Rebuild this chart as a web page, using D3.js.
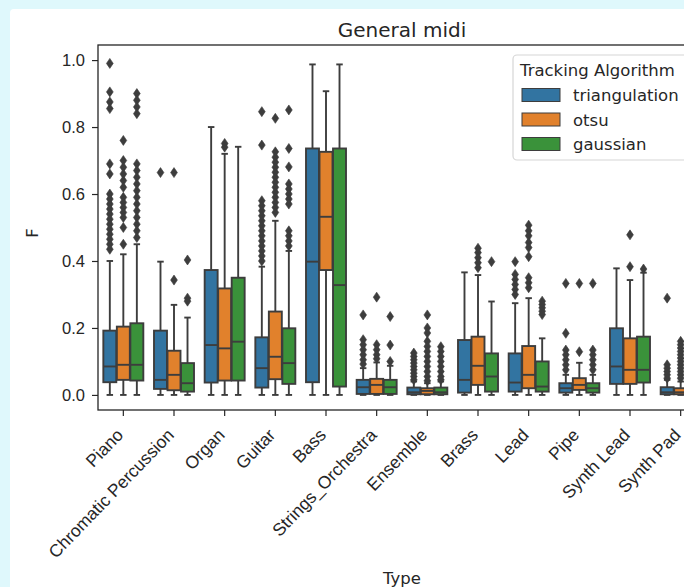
<!DOCTYPE html>
<html>
<head>
<meta charset="utf-8">
<script src="https://cdn.jsdelivr.net/npm/d3@7/dist/d3.min.js"></script>
<style>
  html, body { margin: 0; padding: 0; background: #ffffff; overflow: hidden; }
  svg { display: block; font-family: "DejaVu Sans", sans-serif; }
</style>
</head>
<body>
<div id="container"></div>
<script>
const width = 684, height = 587;

// Categories and hue groups
const types = ["Piano", "Chromatic Percussion", "Organ", "Guitar", "Bass", "Strings_Orchestra",
  "Ensemble", "Brass", "Lead", "Pipe", "Synth Lead", "Synth Pad"];
const algorithms = ["triangulation", "otsu", "gaussian"];
const colors = ["#3274a1", "#e1812c", "#3a923a"];
const yTicks = [0, 0.2, 0.4, 0.6, 0.8, 1.0];

// Box statistics per algorithm, one value per type
const triLo  = [0, 0, 0, 0, 0, 0, 0, 0, 0, 0, 0, 0];
const triQ1  = [0.038, 0.018, 0.037, 0.022, 0.038, 0.003, 0.002, 0.007, 0.010, 0.007, 0.033, 0.002];
const triMed = [0.085, 0.045, 0.149, 0.080, 0.398, 0.023, 0.008, 0.045, 0.037, 0.020, 0.085, 0.008];
const triQ3  = [0.192, 0.192, 0.373, 0.172, 0.736, 0.045, 0.022, 0.164, 0.124, 0.035, 0.199, 0.023];
const triHi  = [0.400, 0.398, 0.800, 0.383, 0.987, 0.080, 0.040, 0.366, 0.274, 0.060, 0.378, 0.045];

const otsuLo  = [0, 0, 0, 0, 0, 0, 0, 0, 0, 0, 0, 0];
const otsuQ1  = [0.045, 0.014, 0.043, 0.047, 0.373, 0.003, 0.002, 0.030, 0.020, 0.015, 0.033, 0.002];
const otsuMed = [0.090, 0.060, 0.139, 0.114, 0.532, 0.030, 0.012, 0.087, 0.060, 0.030, 0.075, 0.008];
const otsuQ3  = [0.204, 0.132, 0.318, 0.249, 0.726, 0.048, 0.020, 0.174, 0.146, 0.050, 0.169, 0.020];
const otsuHi  = [0.420, 0.269, 0.720, 0.520, 0.907, 0.097, 0.035, 0.358, 0.289, 0.096, 0.343, 0.040];

const gaussLo  = [0, 0, 0, 0, 0, 0, 0, 0, 0, 0, 0, 0];
const gaussQ1  = [0.043, 0.010, 0.043, 0.033, 0.025, 0.003, 0.002, 0.010, 0.010, 0.007, 0.037, 0.002];
const gaussMed = [0.090, 0.035, 0.159, 0.095, 0.328, 0.023, 0.008, 0.055, 0.025, 0.020, 0.075, 0.008];
const gaussQ3  = [0.214, 0.095, 0.350, 0.199, 0.736, 0.045, 0.022, 0.124, 0.100, 0.035, 0.174, 0.020];
const gaussHi  = [0.450, 0.231, 0.741, 0.430, 0.987, 0.087, 0.040, 0.279, 0.169, 0.060, 0.365, 0.040];

// Outliers (fliers) per type
const triOut = [
  [0.99, 0.905, 0.875, 0.855, 0.69, 0.66, 0.60, 0.585, 0.57, 0.555, 0.54, 0.525, 0.51, 0.495, 0.48, 0.465, 0.45, 0.435],
  [0.664],
  [],
  [0.846, 0.746, 0.58, 0.565, 0.55, 0.535, 0.52, 0.505, 0.49, 0.475, 0.46, 0.445, 0.43, 0.415, 0.40],
  [],
  [0.239, 0.165, 0.15, 0.135, 0.12, 0.105, 0.092],
  [0.125, 0.115, 0.105, 0.095, 0.085, 0.075, 0.065, 0.055, 0.045],
  [],
  [0.398, 0.36, 0.345, 0.33, 0.315, 0.30],
  [0.333, 0.184, 0.134, 0.12, 0.105, 0.09, 0.075],
  [],
  [0.289, 0.09, 0.08, 0.07, 0.06, 0.05],
];
const otsuOut = [
  [0.76, 0.70, 0.68, 0.66, 0.64, 0.62, 0.59, 0.575, 0.56, 0.545, 0.53, 0.50, 0.45],
  [0.664, 0.343],
  [0.751, 0.74],
  [0.826, 0.726, 0.71, 0.695, 0.68, 0.665, 0.65, 0.635, 0.62, 0.605, 0.59, 0.575, 0.56, 0.545],
  [],
  [0.292, 0.15, 0.135, 0.12, 0.108],
  [0.239, 0.20, 0.185, 0.16, 0.145, 0.13, 0.115, 0.10, 0.085, 0.07, 0.055, 0.042],
  [0.438, 0.425, 0.41, 0.395, 0.38],
  [0.507, 0.49, 0.475, 0.455, 0.44, 0.413, 0.35, 0.335, 0.32],
  [0.333, 0.129],
  [0.478, 0.383],
  [0.16, 0.15, 0.14, 0.13, 0.12, 0.11, 0.10, 0.09, 0.08, 0.07, 0.06, 0.05],
];
const gaussOut = [
  [0.90, 0.88, 0.86, 0.84, 0.69, 0.67, 0.65, 0.63, 0.61, 0.59, 0.57, 0.55, 0.53, 0.51, 0.49, 0.47],
  [0.403, 0.289, 0.28],
  [],
  [0.851, 0.736, 0.681, 0.63, 0.615, 0.60, 0.585, 0.57, 0.49, 0.475, 0.46, 0.445],
  [],
  [0.234, 0.149, 0.10],
  [0.144, 0.13, 0.115, 0.10, 0.085, 0.07, 0.055, 0.045],
  [0.398],
  [0.28, 0.27, 0.26, 0.25, 0.24],
  [0.333, 0.134, 0.12, 0.105, 0.09, 0.075],
  [0.376],
  [0.12, 0.10, 0.08, 0.06],
];

const stats = [
  { lo: triLo, q1: triQ1, med: triMed, q3: triQ3, hi: triHi, out: triOut },
  { lo: otsuLo, q1: otsuQ1, med: otsuMed, q3: otsuQ3, hi: otsuHi, out: otsuOut },
  { lo: gaussLo, q1: gaussQ1, med: gaussMed, q3: gaussQ3, hi: gaussHi, out: gaussOut },
];

const ink = "#262626";
const lineGray = "#3d3d3d";

const svg = d3.select("#container").append("svg")
  .attr("width", width).attr("height", height);

// Light cyan frame around the figure
svg.append("rect").attr("width", width).attr("height", height).attr("fill", "#dff8fc");
svg.append("rect").attr("x", 10).attr("y", 9).attr("width", width).attr("height", height)
  .attr("rx", 4).attr("fill", "#ffffff");

// Plot area (extends past the right edge, as in the cropped reference)
const plot = { left: 98, right: 706, top: 45, bottom: 410 };

const x = d3.scaleBand().domain(types).range([plot.left, plot.right]).padding(0);
const y = d3.scaleLinear().domain([-0.045, 1.045]).range([plot.bottom, plot.top]);

const boxW = x.bandwidth() * 0.8 / 3;

types.forEach((t, i) => {
  const cx = x(t) + x.bandwidth() / 2;
  stats.forEach((s, j) => {
    const bx = cx + (j - 1) * boxW;
    const w = boxW * 0.96;
    const g = svg.append("g");
    // whiskers
    g.append("line").attr("x1", bx).attr("x2", bx)
      .attr("y1", y(s.q3[i])).attr("y2", y(s.hi[i]))
      .attr("stroke", lineGray).attr("stroke-width", 1.9);
    g.append("line").attr("x1", bx).attr("x2", bx)
      .attr("y1", y(s.q1[i])).attr("y2", y(s.lo[i]))
      .attr("stroke", lineGray).attr("stroke-width", 1.9);
    // caps
    [s.hi[i], s.lo[i]].forEach(v => {
      g.append("line").attr("x1", bx - w / 4).attr("x2", bx + w / 4)
        .attr("y1", y(v)).attr("y2", y(v))
        .attr("stroke", lineGray).attr("stroke-width", 1.9);
    });
    // box
    g.append("rect")
      .attr("x", bx - w / 2).attr("width", w)
      .attr("y", y(s.q3[i])).attr("height", Math.max(0.5, y(s.q1[i]) - y(s.q3[i])))
      .attr("fill", colors[j]).attr("stroke", lineGray).attr("stroke-width", 1.9);
    // median
    g.append("line").attr("x1", bx - w / 2).attr("x2", bx + w / 2)
      .attr("y1", y(s.med[i])).attr("y2", y(s.med[i]))
      .attr("stroke", lineGray).attr("stroke-width", 1.9);
    // fliers (thin diamonds)
    s.out[i].forEach(v => {
      const py = y(v);
      g.append("path")
        .attr("d", `M${bx},${py - 5}L${bx + 3.4},${py}L${bx},${py + 5}L${bx - 3.4},${py}Z`)
        .attr("fill", lineGray).attr("stroke", lineGray).attr("stroke-width", 0.6);
    });
  });
});

// Axes
const xAxis = svg.append("g")
  .attr("transform", `translate(0,${plot.bottom})`)
  .call(d3.axisBottom(x).tickSize(6).tickSizeOuter(0));
xAxis.select(".domain").remove();
xAxis.selectAll("line").attr("stroke", ink).attr("stroke-width", 1.2);
xAxis.selectAll("text")
  .attr("fill", ink)
  .style("font-size", "17.5px")
  .attr("text-anchor", "end")
  .attr("dy", null)
  .attr("y", 0)
  .attr("transform", "translate(1,26) rotate(-46)");

const yAxis = svg.append("g")
  .attr("transform", `translate(${plot.left},0)`)
  .call(d3.axisLeft(y).tickValues(yTicks).tickFormat(d3.format(".1f")).tickSize(6).tickPadding(7));
yAxis.select(".domain").remove();
yAxis.selectAll("line").attr("stroke", ink).attr("stroke-width", 1.2);
yAxis.selectAll("text").attr("fill", ink).style("font-size", "16.5px");

// Spines
svg.append("rect")
  .attr("x", plot.left).attr("y", plot.top)
  .attr("width", plot.right - plot.left).attr("height", plot.bottom - plot.top)
  .attr("fill", "none").attr("stroke", ink).attr("stroke-width", 1.3);

// Labels
svg.append("text")
  .attr("x", (plot.left + plot.right) / 2).attr("y", 37)
  .attr("text-anchor", "middle").attr("fill", ink)
  .style("font-size", "20px")
  .text("General midi");

svg.append("text")
  .attr("x", 402).attr("y", 584)
  .attr("text-anchor", "middle").attr("fill", ink)
  .style("font-size", "16.5px")
  .text("Type");

svg.append("text")
  .attr("transform", "translate(38,233) rotate(-90)")
  .attr("text-anchor", "middle").attr("fill", ink)
  .style("font-size", "16.5px")
  .text("F");

// Legend
const legend = svg.append("g");
legend.append("rect")
  .attr("x", 513).attr("y", 55).attr("width", 220).attr("height", 105)
  .attr("rx", 4).attr("fill", "#ffffff").attr("fill-opacity", 0.85)
  .attr("stroke", "#d6d6d6").attr("stroke-width", 1.2);
legend.append("text")
  .attr("x", 520).attr("y", 76).attr("fill", ink)
  .style("font-size", "16.5px")
  .text("Tracking Algorithm");
algorithms.forEach((a, j) => {
  const ly = 95 + j * 24.5;
  legend.append("rect")
    .attr("x", 522).attr("y", ly - 6.5).attr("width", 38).attr("height", 13)
    .attr("fill", colors[j]).attr("stroke", lineGray).attr("stroke-width", 1);
  legend.append("text")
    .attr("x", 573).attr("y", ly + 6).attr("fill", ink)
    .style("font-size", "16.5px")
    .text(a);
});
</script>
</body>
</html>
